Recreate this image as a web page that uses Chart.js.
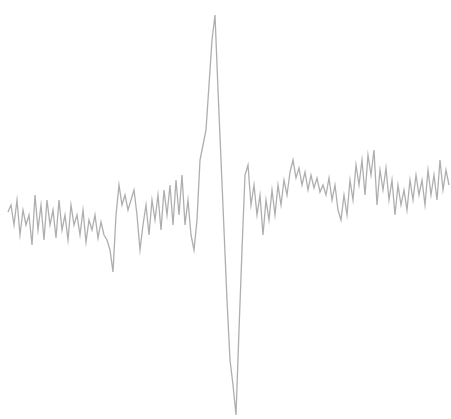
<!DOCTYPE html>
<html>
<head>
<meta charset="utf-8">
<script src="https://cdn.jsdelivr.net/npm/chart.js@4/dist/chart.umd.min.js"></script>
<style>
  html, body { margin: 0; padding: 0; background: #fff; }
  #wrap { width: 451px; height: 419px; }
</style>
</head>
<body>
<div id="wrap"><canvas id="wave" width="451" height="419"></canvas></div>
<script>
// signal amplitude, one sample per step
var signal = [
  -2, 5, -15, 10, -25, 0, -15, -5, -35, 15,
  -20, 5, -30, 10, -15, 0, -28, 10, -20, -5,
  -30, 5, -15, -5, -25, 0, -32, -10, -20, -5,
  -28, -12, -25, -30, -40, -62, -5, 25, 5, 15,
  0, 10, 20, -5, -40, -15, 5, -25, 10, -10,
  15, -20, 20, -5, 25, -15, 30, -5, 35, -15,
  10, -25, -40, -10, 50, 65, 80, 125, 170, 195,
  120, 50, -20, -90, -150, -175, -205, -120, -40, 35,
  45, 5, 25, -5, 15, -25, 10, -10, 20, -5,
  25, 5, 30, 15, 38, 50, 32, 42, 25, 38,
  20, 35, 22, 32, 18, 25, 15, 32, 10, 25,
  0, -10, 15, -5, 30, 10, 45, 25, 50, 15,
  55, 35, 60, 5, 40, 20, 42, 10, 30, -5,
  25, 5, 20, 0, 30, 10, 35, 15, 30, 5,
  40, 15, 35, 10, 50, 20, 40, 25
];
var sampleIdx = signal.map(function(_, i){ return i; });

var ctx = document.getElementById('wave').getContext('2d');
new Chart(ctx, {
  type: 'line',
  data: {
    datasets: [{
      data: sampleIdx.map(function(i){ return { x: i, y: signal[i] }; }),
      borderColor: 'rgba(120,120,120,0.6)',
      borderWidth: 1.3,
      pointRadius: 0,
      tension: 0,
      fill: false
    }]
  },
  options: {
    responsive: false,
    animation: false,
    layout: { padding: 0 },
    plugins: { legend: { display: false }, tooltip: { enabled: false } },
    scales: {
      x: { type: 'linear', display: false, min: -2.667, max: 147.667 },
      y: { display: false, min: -209, max: 210 }
    }
  }
});
</script>
</body>
</html>
